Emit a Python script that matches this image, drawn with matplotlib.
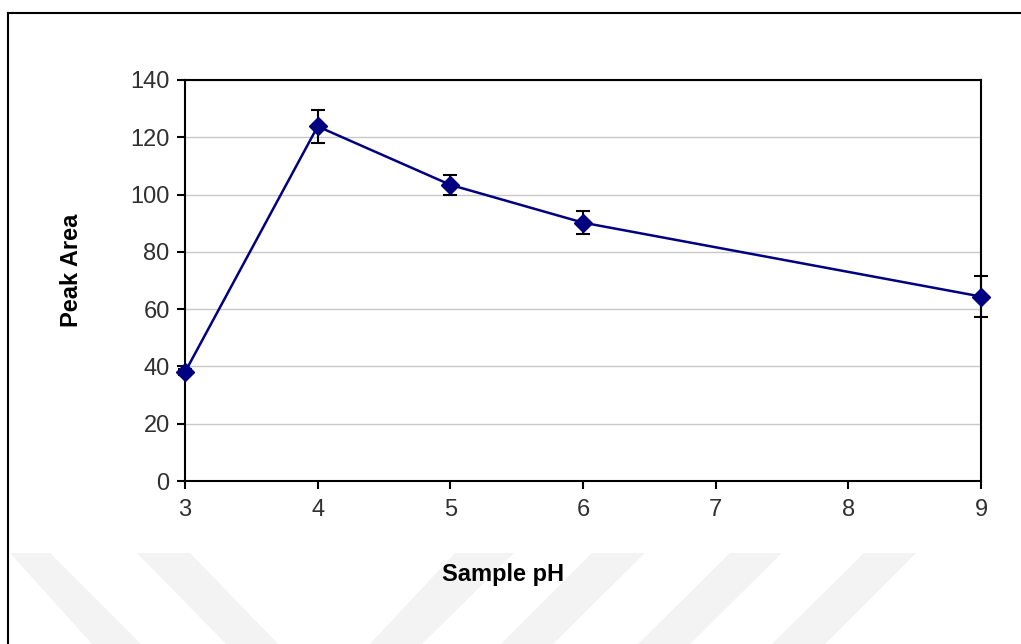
import matplotlib.pyplot as plt
from matplotlib.patches import Polygon
from matplotlib.lines import Line2D

# data
ph = [3, 4, 5, 6, 9]
peak_area = [38, 123.8, 103.4, 90.2, 64.4]
err = [1, 5.8, 3.6, 4.0, 7.0]

plt.rcParams['font.family'] = ['Liberation Sans', 'DejaVu Sans']

fig = plt.figure(figsize=(10.21, 6.44), dpi=100)
fig.patch.set_facecolor('white')

# faint watermark stripes at the bottom of the page
stripes = [
    [(10, 553), (50, 553), (141, 644), (92, 644)],
    [(137, 553), (190, 553), (278, 644), (226, 644)],
    [(455, 553), (514, 553), (422, 644), (370, 644)],
    [(592, 553), (645, 553), (553, 644), (501, 644)],
    [(730, 553), (782, 553), (690, 644), (638, 644)],
    [(864, 553), (916, 553), (825, 644), (772, 644)],
]
W, H = 1021, 644
for s in stripes:
    pts = [(x / W, 1 - y / H) for x, y in s]
    fig.patches.append(Polygon(pts, closed=True, transform=fig.transFigure,
                               facecolor='#f3f3f3', edgecolor='none', zorder=-5))

# page border (top and left)
fig.lines.append(Line2D([8 / W, 1], [1 - 13 / H, 1 - 13 / H], transform=fig.transFigure,
                        color='black', lw=1.5))
fig.lines.append(Line2D([8 / W, 8 / W], [0, 1 - 13 / H], transform=fig.transFigure,
                        color='black', lw=1.5))

ax = fig.add_axes([185 / W, 1 - 481 / H, (981 - 185) / W, (481 - 80) / H])
ax.set_facecolor('none')

ax.errorbar(ph, peak_area, yerr=err, fmt='none', ecolor='black', elinewidth=1.5,
            capsize=5, capthick=1.5, zorder=3, clip_on=False)
ax.plot(ph, peak_area, color='#000080', lw=1.8, marker='D', markersize=9,
        zorder=4, clip_on=False)

ax.set_xlim(3, 9)
ax.set_ylim(0, 140)
ax.set_xticks(range(3, 10))
ax.set_yticks(range(0, 141, 20))
ax.yaxis.grid(True, color='#c8c8c8', lw=1)
ax.set_axisbelow(True)

for sp in ax.spines.values():
    sp.set_color('black')
    sp.set_linewidth(1.5)

ax.tick_params(axis='y', direction='out', length=6, width=1.5, colors='black',
               labelsize=17, labelcolor='#303030', pad=5)
ax.tick_params(axis='x', direction='out', length=6, width=1.5, colors='black',
               labelsize=17, labelcolor='#303030', pad=7)

ax.set_xlabel('Sample pH', fontsize=17, fontweight='bold', va='center')
ax.set_ylabel('Peak Area', fontsize=17, fontweight='bold', va='center')
ax.xaxis.set_label_coords(0.4, -0.234)
ax.yaxis.set_label_coords(-0.142, 0.525)
ax.xaxis.label.set_x(0.4)

fig.savefig('out.png', dpi=100)
